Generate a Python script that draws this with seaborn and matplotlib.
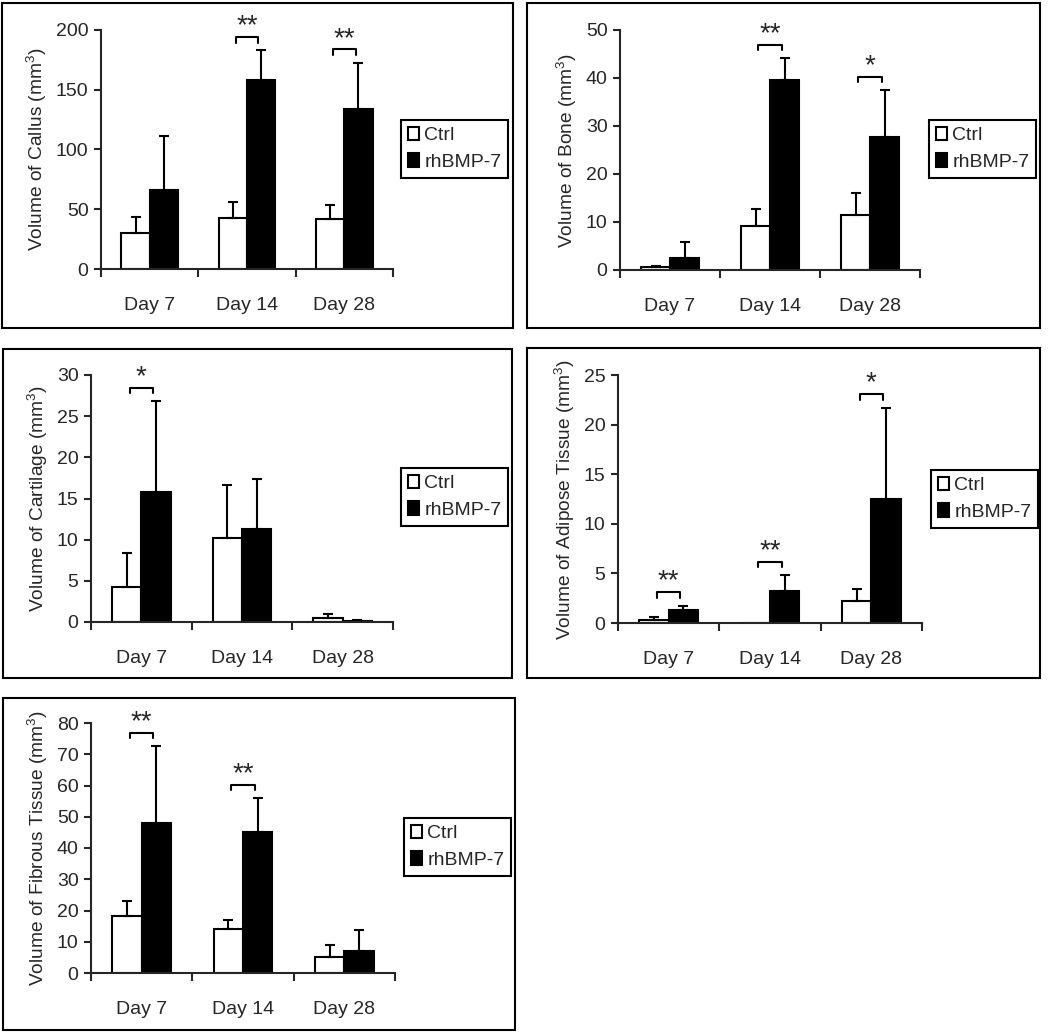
import numpy as np
import pandas as pd
import matplotlib
matplotlib.use("Agg")
import matplotlib.pyplot as plt
from matplotlib.patches import Rectangle
import seaborn as sns

days = ["Day 7", "Day 14", "Day 28"]
groups = ["Ctrl", "rhBMP-7"]

# mean values and upper error (SD)
callus_ctrl = [30.0, 42.6, 41.5]
callus_ctrl_sd = [13.5, 13.1, 12.3]
callus_bmp = [66.3, 158.0, 134.0]
callus_bmp_sd = [44.6, 25.0, 38.7]

bone_ctrl = [0.55, 9.2, 11.4]
bone_ctrl_sd = [0.35, 3.6, 4.7]
bone_bmp = [2.4, 39.5, 27.8]
bone_bmp_sd = [3.4, 4.7, 9.7]

cart_ctrl = [4.2, 10.15, 0.49]
cart_ctrl_sd = [4.2, 6.45, 0.48]
cart_bmp = [15.85, 11.24, 0.16]
cart_bmp_sd = [10.95, 6.16, 0.12]

adip_ctrl = [0.27, 0.0, 2.19]
adip_ctrl_sd = [0.33, 0.0, 1.28]
adip_bmp = [1.28, 3.23, 12.45]
adip_bmp_sd = [0.47, 1.58, 9.25]

fib_ctrl = [18.3, 14.1, 5.0]
fib_ctrl_sd = [4.7, 2.8, 3.9]
fib_bmp = [48.1, 45.0, 6.95]
fib_bmp_sd = [24.4, 10.9, 6.95]

# significance marks: (day index, stars)
callus_sig = [(1, "**"), (2, "**")]
bone_sig = [(1, "**"), (2, "*")]
cart_sig = [(0, "*")]
adip_sig = [(0, "**"), (1, "**"), (2, "*")]
fib_sig = [(0, "**"), (1, "**")]

panels = [
    dict(label="Volume of Callus (mm$^3$)", ymax=200, step=50,
         ctrl=callus_ctrl, ctrl_sd=callus_ctrl_sd, bmp=callus_bmp, bmp_sd=callus_bmp_sd,
         sig=callus_sig, ax_px=(101, 393, 30, 269), leg_px=(401, 120),
         box_px=(2, 513, 3, 328)),
    dict(label="Volume of Bone (mm$^3$)", ymax=50, step=10,
         ctrl=bone_ctrl, ctrl_sd=bone_ctrl_sd, bmp=bone_bmp, bmp_sd=bone_bmp_sd,
         sig=bone_sig, ax_px=(620, 920, 30, 270), leg_px=(929, 120),
         box_px=(527, 1040, 3, 328)),
    dict(label="Volume of Cartilage (mm$^3$)", ymax=30, step=5,
         ctrl=cart_ctrl, ctrl_sd=cart_ctrl_sd, bmp=cart_bmp, bmp_sd=cart_bmp_sd,
         sig=cart_sig, ax_px=(91, 393, 375, 622), leg_px=(401, 468),
         box_px=(3, 512, 349, 678)),
    dict(label="Volume of Adipose Tissue (mm$^3$)", ymax=25, step=5,
         ctrl=adip_ctrl, ctrl_sd=adip_ctrl_sd, bmp=adip_bmp, bmp_sd=adip_bmp_sd,
         sig=adip_sig, ax_px=(618, 922, 375, 623), leg_px=(931, 470),
         box_px=(527, 1040, 348, 678)),
    dict(label="Volume of Fibrous Tissue (mm$^3$)", ymax=80, step=10,
         ctrl=fib_ctrl, ctrl_sd=fib_ctrl_sd, bmp=fib_bmp, bmp_sd=fib_bmp_sd,
         sig=fib_sig, ax_px=(91, 395, 723, 973), leg_px=(404, 818),
         box_px=(3, 515, 698, 1030)),
]

sns.set_style("ticks")
plt.rcParams["font.family"] = ["Liberation Sans", "DejaVu Sans"]
plt.rcParams["mathtext.fontset"] = "custom"
plt.rcParams["mathtext.rm"] = "Liberation Sans"

W, H = 1050, 1035
FS = 14
fig = plt.figure(figsize=(W / 100, H / 100), dpi=100)

for p in panels:
    L, R, T, B = p["ax_px"]
    ax = fig.add_axes([L / W, 1 - B / H, (R - L) / W, (B - T) / H])
    df = pd.DataFrame({
        "Day": days * 2,
        "Group": [groups[0]] * 3 + [groups[1]] * 3,
        "Value": p["ctrl"] + p["bmp"],
    })
    sns.barplot(data=df, x="Day", y="Value", hue="Group", order=days, hue_order=groups,
                palette={"Ctrl": "white", "rhBMP-7": "black"}, edgecolor="black",
                linewidth=1.5, width=0.58, errorbar=None, ax=ax)

    # upward-only error bars at bar centres
    bars = [b for b in ax.patches if b.get_width() > 0][:6]
    means = p["ctrl"] + p["bmp"]
    sds = p["ctrl_sd"] + p["bmp_sd"]
    centers = [b.get_x() + b.get_width() / 2 for b in bars]
    for cx, m, s in zip(centers, means, sds):
        if s <= 0:
            continue
        ax.errorbar(cx, m, yerr=[[0], [s]], fmt="none", ecolor="black",
                    elinewidth=1.5, capsize=3.5, capthick=1.5, zorder=1)

    ymax = p["ymax"]
    for i, stars in p["sig"]:
        c0, c1 = centers[i], centers[i + 3]
        top = max(means[i] + sds[i], means[i + 3] + sds[i + 3])
        yb = top + 0.055 * ymax
        leg = 0.023 * ymax
        xm = (c0 + c1) / 2
        half = 0.8 * (c1 - c0) / 2
        ax.plot([xm - half, xm - half, xm + half, xm + half],
                [yb - leg, yb, yb, yb - leg], color="black", lw=1.5, clip_on=False)
        ax.text(xm, yb - 0.01 * ymax, stars, ha="center", va="bottom",
                fontsize=20, clip_on=False)

    ax.set_xlim(-0.5, 2.5)
    ax.set_ylim(0, ymax)
    ax.set_yticks(np.arange(0, ymax + 0.1, p["step"]))
    ax.set_xticks([-0.5, 0.5, 1.5, 2.5])
    ax.set_xticklabels([])
    ax.set_xticks([0, 1, 2], minor=True)
    ax.set_xticklabels(days, minor=True)
    ax.tick_params(axis="x", which="minor", length=0, pad=20, labelsize=FS)
    ax.tick_params(axis="x", which="major", length=6, width=1.5, direction="out")
    ax.tick_params(axis="y", length=5, width=1.5, direction="out", labelsize=FS, pad=4)
    ax.set_xlabel("")
    ax.set_ylabel(p["label"], fontsize=13.75, labelpad=5)
    sns.despine(ax=ax)
    for sp in ["left", "bottom"]:
        ax.spines[sp].set_linewidth(1.5)

    handles, labels = ax.get_legend_handles_labels()
    lx, ly = p["leg_px"]
    leg_obj = ax.legend(handles, labels, loc="upper left",
                        bbox_to_anchor=(lx / W, 1 - ly / H), bbox_transform=fig.transFigure,
                        fontsize=FS, frameon=True, fancybox=False, framealpha=1,
                        edgecolor="black", handlelength=0.55, handleheight=0.7,
                        handletextpad=0.3, borderpad=0.35, labelspacing=0.45,
                        borderaxespad=0)
    leg_obj.get_frame().set_linewidth(1.5)

    bl, br, bt, bb = p["box_px"]
    fig.patches.append(Rectangle((bl / W, 1 - bb / H), (br - bl) / W, (bb - bt) / H,
                                 transform=fig.transFigure, fill=False,
                                 edgecolor="black", linewidth=1.5))

fig.savefig("out.png", dpi=100, facecolor="white")
